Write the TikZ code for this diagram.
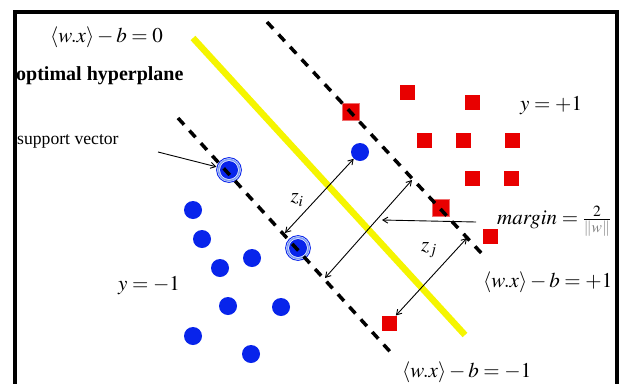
\documentclass[tikz,border=0pt]{standalone}
\usepackage{mathptmx}
\usepackage{fontspec}
\setmainfont{Liberation Serif}
\usetikzlibrary{arrows.meta}
\definecolor{sqred}{RGB}{232,0,0}
\definecolor{sqpink}{RGB}{240,110,110}
\definecolor{ptblue}{RGB}{8,36,235}
\definecolor{ringblue}{RGB}{130,160,245}
\definecolor{hypyellow}{RGB}{245,245,0}
\begin{document}
\begin{tikzpicture}[x=1pt,y=-1pt,
  lbl/.style={inner sep=0pt,font=\fontsize{21}{25}\selectfont},
  boldlbl/.style={inner sep=0pt,font=\fontsize{20}{24}\selectfont\bfseries},
  redsq/.style={fill=sqred,minimum size=15pt,inner sep=0pt,outer sep=0pt},
  redsv/.style={fill=sqred,draw=sqpink,line width=1.5pt,minimum size=17pt,inner sep=0pt},
  bluept/.style={circle,fill=ptblue,minimum size=18pt,inner sep=0pt},
  bluesv/.style={circle,fill=ptblue,minimum size=18pt,inner sep=0pt,outer sep=4pt},
  ringin/.style={draw=ringblue,line width=1.6pt},
  ringout/.style={draw=ptblue,line width=0.9pt},
  dashln/.style={line width=3.5pt,dash pattern=on 9pt off 8pt},
  hyp/.style={hypyellow,line width=6.5pt},
  arr/.style={-{Straight Barb[length=5pt,width=6pt]},line width=0.9pt},
  darr/.style={{Straight Barb[length=5pt,width=6pt]}-{Straight Barb[length=5pt,width=6pt]},line width=0.9pt},
  frame/.style={line width=4pt}]
\useasboundingbox (0,0) rectangle (620,383);
\fill[white] (0,0) rectangle (620,383);
% frame
\draw[frame] (15,385) -- (15,12) -- (616.5,12) -- (616.5,385);
% lines
\coordinate (y0s) at (193,38);
\coordinate (y0e) at (465,335);
\coordinate (p1s) at (267,22);
\coordinate (p1e) at (484,256);
\coordinate (m1s) at (178,118);
\coordinate (m1e) at (394,356);
\draw[hyp] (y0s) -- (y0e);
% blue points
\node[bluept] (b1) at (193,210) {};
\node[bluept] (b2) at (202,239) {};
\node[bluept] (b3) at (252,258) {};
\node[bluept] (b4) at (220,268) {};
\node[bluept] (b5) at (228,306) {};
\node[bluept] (b6) at (281,307) {};
\node[bluept] (b7) at (193,336) {};
\node[bluept] (b8) at (251,354) {};
\node[bluept] (b9) at (360,152) {};
\node[bluesv] (s1) at (229,170) {};
\node[bluesv] (s2) at (298,248) {};
\draw[ringin] (s1.center) circle (10.6pt);
\draw[ringout] (s1.center) circle (12.4pt);
\draw[ringin] (s2.center) circle (10.6pt);
\draw[ringout] (s2.center) circle (12.4pt);
% red points
\node[redsq] (r1) at (407,92) {};
\node[redsq] (r2) at (472,102) {};
\node[redsq] (r3) at (424,140) {};
\node[redsq] (r4) at (463,140) {};
\node[redsq] (r5) at (512,140) {};
\node[redsq] (r6) at (472,178) {};
\node[redsq] (r7) at (511,178) {};
\node[redsq] (r8) at (490,236) {};
\node[redsq] (r9) at (389,323) {};
\node[redsv] (t1) at (351,112) {};
\node[redsv] (t2) at (441,208) {};
% dashed margins (over the points)
\draw[dashln] (p1s) -- (p1e);
\draw[dashln] (m1s) -- (m1e);
% margin arrows
\coordinate (zia) at (285,233);
\coordinate (mga) at (325,278);
\coordinate (mgb) at (412,180);
\coordinate (zjb) at (467,238);
\draw[darr] (zia) -- (b9);
\draw[darr] (mga) -- (mgb);
\draw[darr] (r9) -- (zjb);
\node[lbl] (zi) at (297,200) {$z_i$};
\node[lbl] (zj) at (429,250) {$z_j$};
% labels
\node[lbl,anchor=west] (eq0) at (50,37) {$\langle w.x\rangle-b=0$};
\node[boldlbl,anchor=west] (opt) at (16,76) {optimal hyperplane};
\node[lbl,anchor=west] (svl) at (17,141) {\scalebox{0.84}{support vector}};
\coordinate (sva) at (158,152);
\draw[arr] (sva) -- (s1);
\node[lbl,anchor=west] (yp) at (520,106) {$y=+1$};
\node[lbl,anchor=west] (ym) at (118,286) {$y=-1$};
\node[lbl,anchor=west] (mgl) at (497,221) {$\mathit{margin}=\frac{2}{\textcolor{gray}{\|w\|}}$};
\coordinate (mgp) at (476,222);
\coordinate (mgt) at (382,220);
\draw[arr] (mgp) -- (mgt);
\node[lbl,anchor=west] (eqp) at (483,282) {$\langle w.x\rangle-b=+1$};
\node[lbl,anchor=west] (eqm) at (402,372) {$\langle w.x\rangle-b=-1$};
\end{tikzpicture}
\end{document}
